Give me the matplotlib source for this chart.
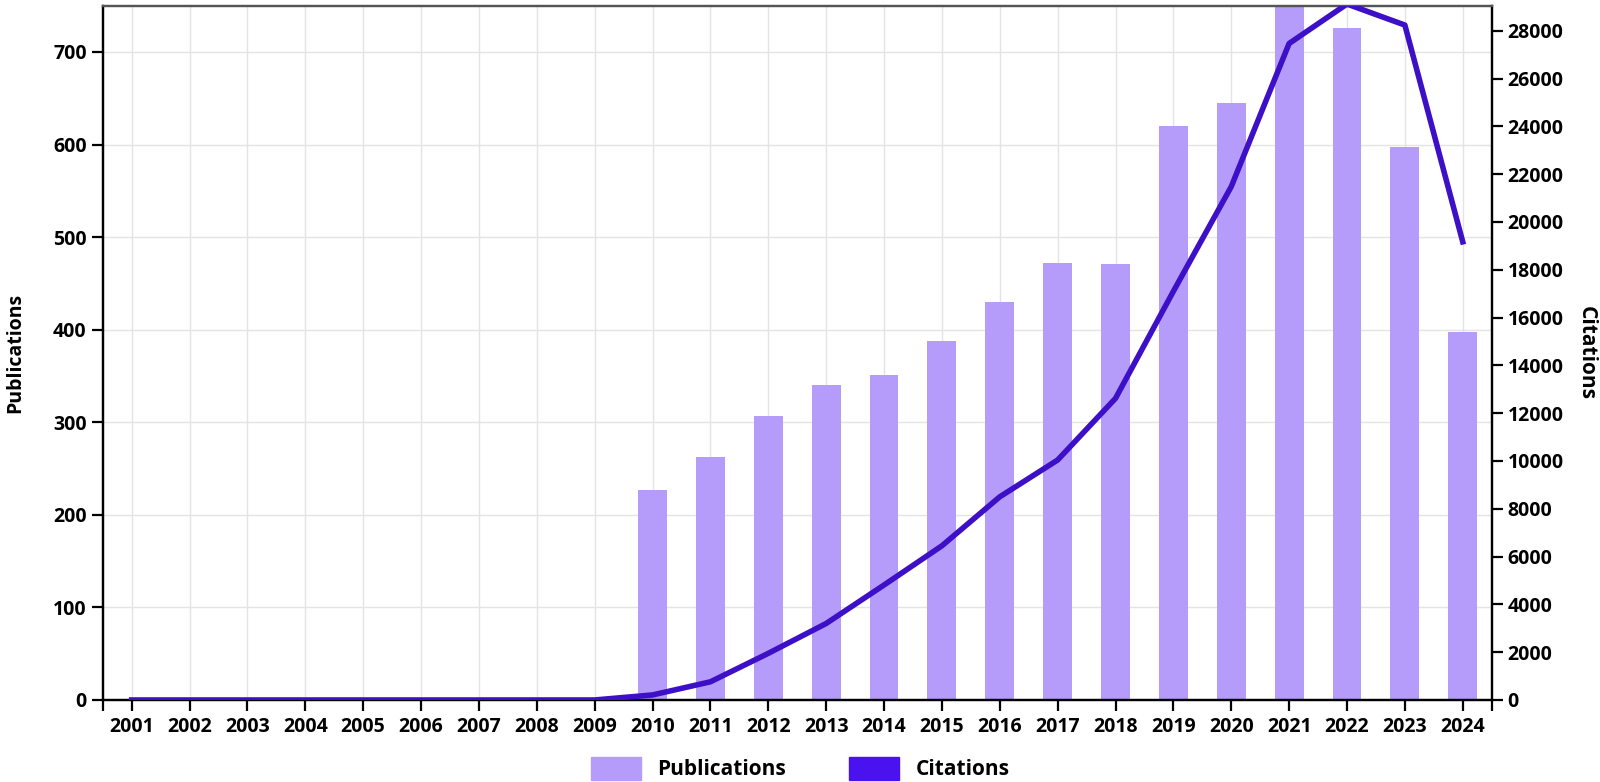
import matplotlib
matplotlib.use("Agg")
import matplotlib.pyplot as plt
from matplotlib.patches import Patch

plt.rcParams['font.family'] = ['Open Sans', 'DejaVu Sans']

years = list(range(2001, 2025))
publications = [0, 0, 0, 0, 0, 0, 0, 0, 0,
                227, 263, 307, 340, 351, 388, 430, 472, 471,
                620, 645, 765, 726, 597, 397]
citations = [0, 0, 0, 0, 0, 0, 0, 0, 0,
             210, 760, 1950, 3200, 4810, 6450, 8500, 10040, 12620,
             17100, 21480, 27470, 29120, 28240, 19170]

bar_color = '#b69cfa'
line_color = '#3d10c8'
legend_line_color = '#4a12ee'
fw = 'bold'

fig = plt.figure(figsize=(16, 7.82), dpi=100)
ax = fig.add_axes([0.0642, 0.1049, 0.8681, 0.8878])
ax2 = ax.twinx()

ax.bar(years, publications, width=0.5, color=bar_color, zorder=2)
ax2.plot(years, citations, color=line_color, lw=4, zorder=3)

ax.set_xlim(2000.5, 2024.5)
ax.set_ylim(0, 750)
ax2.set_ylim(0, 29050)

ax.set_xticks(years)
ax.set_xticklabels([str(y) for y in years])
ax.set_yticks(range(0, 701, 100))
ax2.set_yticks(range(0, 28001, 2000))
ax.set_xticks([2000.5, 2024.5], minor=True)

ax.grid(True, color='#e4e4e4', lw=1, zorder=0)
ax.set_axisbelow(True)

for a in (ax, ax2):
    for s in a.spines.values():
        s.set_linewidth(1.6)
    a.spines['top'].set_color('#555555')
    a.tick_params(axis='both', which='both', length=8, width=1.6, labelsize=14)
    for lab in a.get_xticklabels() + a.get_yticklabels():
        lab.set_fontweight(fw)
ax.tick_params(axis='x', which='minor', length=8, width=1.6)
ax.tick_params(axis='x', pad=4)

ax.set_ylabel('Publications', fontsize=14, fontweight=fw, labelpad=20)
ax2.set_ylabel('Citations', fontsize=15, fontweight=fw, rotation=270, labelpad=24)

handles = [Patch(color=bar_color, label='Publications'),
           Patch(color=legend_line_color, label='Citations')]
fig.legend(handles=handles, loc='lower center', bbox_to_anchor=(0.5, -0.022), ncol=2,
           frameon=False, handlelength=2.4, handleheight=1.3,
           columnspacing=3.0, prop={'weight': fw, 'size': 15})

fig.savefig('out.png', dpi=100)
